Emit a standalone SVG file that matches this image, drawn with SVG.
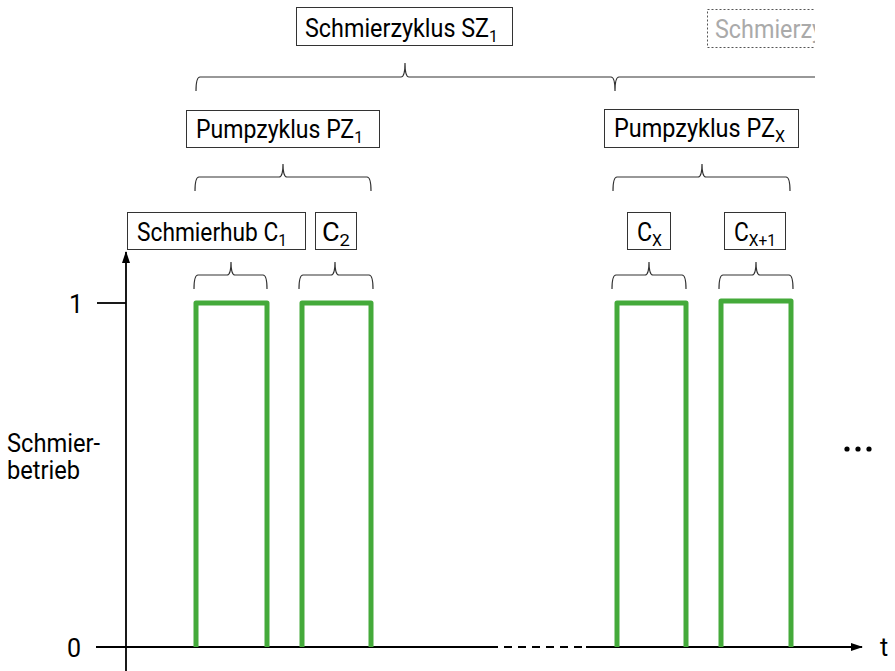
<svg xmlns="http://www.w3.org/2000/svg" width="895" height="671" viewBox="0 0 895 671">
<defs>
<style>
text{font-family:Roboto,"Liberation Sans",sans-serif;fill:#000}
.lbl{font-size:25px}
.sub{font-size:17px}
.box{fill:#fff;stroke:#333;stroke-width:1}
.dbox{fill:#fff;stroke:#555;stroke-width:1;stroke-dasharray:2,2}
.br{fill:none;stroke:#333;stroke-width:1.2}
.ax{stroke:#000;stroke-width:1.8;fill:none}
.pulse{fill:none;stroke:#44aa3a;stroke-width:5;stroke-linejoin:round}
</style>
<marker id="arr" markerWidth="12" markerHeight="8" refX="11" refY="4" orient="auto" markerUnits="userSpaceOnUse">
<path d="M0,0 L12,4 L0,8 Z" fill="#000"/>
</marker>
<clipPath id="clipR"><rect x="0" y="0" width="815" height="671"/></clipPath>
</defs>
<rect width="895" height="671" fill="#fff"/>

<g id="connectors">
<g clip-path="url(#clipR)">
<path class="br" d="M196,91 Q196,77 200,77 L401,77 Q405,77 405,63 Q405,77 409,77 L611,77 Q615,77 615,91 Q615,77 619,77 L830,77"/>
</g>
<path class="br" d="M195,191 Q195,177 199,177 L279,177 Q283,177 283,164 Q283,177 287,177 L367,177 Q371,177 371,191"/>
<path class="br" d="M613,191 Q613,177 617,177 L698,177 Q702,177 702,164 Q702,177 706,177 L786,177 Q790,177 790,191"/>
<path class="br" d="M194,289 Q194,275 198,275 L227,275 Q231,275 231,262 Q231,275 235,275 L263,275 Q267,275 267,289"/>
<path class="br" d="M299,289 Q299,275 303,275 L331,275 Q335,275 335,262 Q335,275 339,275 L369,275 Q373,275 373,289"/>
<path class="br" d="M612,289 Q612,275 616,275 L645,275 Q649,275 649,262 Q649,275 653,275 L682,275 Q686,275 686,289"/>
<path class="br" d="M719,289 Q719,275 723,275 L752,275 Q756,275 756,262 Q756,275 760,275 L789,275 Q793,275 793,289"/>
<line class="ax" x1="126" y1="671" x2="126" y2="252" marker-end="url(#arr)"/>
<line class="ax" x1="97" y1="303" x2="126" y2="303"/>
<line class="ax" x1="96" y1="647" x2="498" y2="647"/>
<line class="ax" x1="504" y1="647" x2="582" y2="647" stroke-dasharray="8,6"/>
<line class="ax" x1="586" y1="647" x2="862" y2="647" marker-end="url(#arr)"/>
<path class="pulse" d="M196,647 L196,303 L267,303 L267,647"/>
<path class="pulse" d="M302,647 L302,303 L371,303 L371,647"/>
<path class="pulse" d="M617,647 L617,303 L686,303 L686,647"/>
<path class="pulse" d="M721,647 L721,301 L791,301 L791,647"/>
</g>

<g id="sz1">
<rect class="box" x="296.5" y="7.5" width="216" height="38"/>
<text class="lbl" x="305" y="37" textLength="193" lengthAdjust="spacingAndGlyphs">Schmierzyklus SZ<tspan class="sub" dy="5">1</tspan></text>
</g>
<g id="sz2" clip-path="url(#clipR)">
<rect class="dbox" x="707.5" y="9.5" width="140" height="38"/>
<text class="lbl" x="715" y="38" textLength="193" lengthAdjust="spacingAndGlyphs" style="fill:#aaa">Schmierzyklus SZ<tspan class="sub" dy="5">2</tspan></text>
</g>
<g id="pz1">
<rect class="box" x="186.5" y="110.5" width="193" height="37"/>
<text class="lbl" x="196" y="138" textLength="167" lengthAdjust="spacingAndGlyphs">Pumpzyklus PZ<tspan class="sub" dy="5">1</tspan></text>
</g>
<g id="pzx">
<rect class="box" x="604.5" y="109.5" width="194" height="38"/>
<text class="lbl" x="614" y="137" textLength="171" lengthAdjust="spacingAndGlyphs">Pumpzyklus PZ<tspan class="sub" dy="5">X</tspan></text>
</g>
<g id="c1">
<rect class="box" x="127.5" y="212.5" width="178" height="37"/>
<text class="lbl" x="137" y="241" textLength="150" lengthAdjust="spacingAndGlyphs">Schmierhub C<tspan class="sub" dy="5">1</tspan></text>
</g>
<g id="c2">
<rect class="box" x="315.5" y="212.5" width="41" height="37"/>
<text class="lbl" x="322" y="241" textLength="28" lengthAdjust="spacingAndGlyphs">C<tspan class="sub" dy="5">2</tspan></text>
</g>
<g id="cx">
<rect class="box" x="627.5" y="212.5" width="43" height="37"/>
<text class="lbl" x="637" y="241" textLength="25" lengthAdjust="spacingAndGlyphs">C<tspan class="sub" dy="5">X</tspan></text>
</g>
<g id="cx1">
<rect class="box" x="724.5" y="212.5" width="61" height="37"/>
<text class="lbl" x="734" y="241" textLength="42" lengthAdjust="spacingAndGlyphs">C<tspan class="sub" dy="5">X+1</tspan></text>
</g>

<g id="axis-labels">
<text class="lbl" x="69" y="313">1</text>
<text class="lbl" x="67" y="657">0</text>
<text class="lbl" x="880" y="656">t</text>
<text class="lbl" x="7" y="452" textLength="93" lengthAdjust="spacingAndGlyphs">Schmier-</text>
<text class="lbl" x="7" y="479" textLength="73" lengthAdjust="spacingAndGlyphs">betrieb</text>
<circle cx="847" cy="449" r="2.6" fill="#000"/>
<circle cx="858" cy="449" r="2.6" fill="#000"/>
<circle cx="869" cy="449" r="2.6" fill="#000"/>
</g>
</svg>
